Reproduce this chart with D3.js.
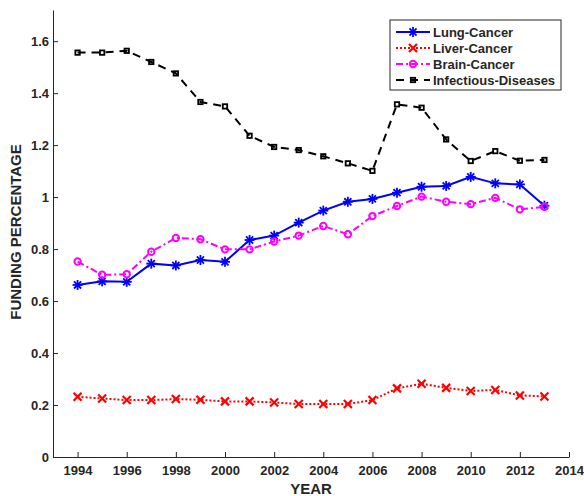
<!DOCTYPE html>
<html>
<head>
<meta charset="utf-8">
<script src="https://cdn.jsdelivr.net/npm/d3@7"></script>
<style>
  html, body { margin: 0; padding: 0; background: #fff; }
  svg { display: block; }
  text { font-family: "Liberation Sans", Arial, Helvetica, sans-serif; font-weight: bold; fill: #262626; }
</style>
</head>
<body>
<svg id="chart" width="584" height="496"></svg>
<script>
// Funding percentage by year for four disease areas
const years = [1994,1995,1996,1997,1998,1999,2000,2001,2002,2003,2004,2005,2006,2007,2008,2009,2010,2011,2012,2013];
const lungCancer = [0.662,0.676,0.674,0.744,0.737,0.758,0.751,0.835,0.852,0.902,0.948,0.982,0.993,1.017,1.040,1.043,1.078,1.053,1.049,0.967];
const liverCancer = [0.232,0.225,0.219,0.219,0.223,0.220,0.214,0.214,0.210,0.204,0.204,0.204,0.219,0.264,0.282,0.266,0.254,0.258,0.237,0.233];
const brainCancer = [0.752,0.701,0.703,0.790,0.843,0.838,0.799,0.799,0.829,0.852,0.889,0.857,0.927,0.966,1.002,0.982,0.973,0.997,0.953,0.963];
const infectiousDiseases = [1.556,1.556,1.563,1.520,1.476,1.366,1.349,1.236,1.193,1.181,1.157,1.130,1.101,1.357,1.344,1.222,1.139,1.177,1.140,1.143];
const xTicks = [1994,1996,1998,2000,2002,2004,2006,2008,2010,2012,2014];
const yTicks = [0,0.2,0.4,0.6,0.8,1,1.2,1.4,1.6];
const seriesNames = ["Lung-Cancer","Liver-Cancer","Brain-Cancer","Infectious-Diseases"];

const series = [
  {name: seriesNames[0], values: lungCancer, color: "#0000ff", dash: null, marker: "asterisk"},
  {name: seriesNames[1], values: liverCancer, color: "#ff0000", dash: "2,2", marker: "cross"},
  {name: seriesNames[2], values: brainCancer, color: "#ff00ff", dash: "7,3,2,3", marker: "circle"},
  {name: seriesNames[3], values: infectiousDiseases, color: "#000000", dash: "8,6", marker: "square"}
];

const margin = {left: 53, right: 15, top: 10, bottom: 39};
const W = 584, H = 496;
const svg = d3.select("#chart");

const x = d3.scaleLinear().domain([1993, 2014]).range([margin.left, W - margin.right]);
const y = d3.scaleLinear().domain([0, 1.72]).range([H - margin.bottom, margin.top]);

const axisColor = "#262626";

// Axes (ticks point inward)
const xAxis = svg.append("g")
  .attr("transform", `translate(0,${y(0)})`)
  .call(d3.axisBottom(x).tickValues(xTicks).tickFormat(d3.format("d")).tickSizeInner(-5).tickSizeOuter(0).tickPadding(9));
const yAxis = svg.append("g")
  .attr("transform", `translate(${x(1993)},0)`)
  .call(d3.axisLeft(y).tickValues(yTicks).tickFormat(d => String(+d.toFixed(1))).tickSizeInner(-5).tickSizeOuter(0).tickPadding(4));

[xAxis, yAxis].forEach(g => {
  g.select(".domain").attr("stroke", axisColor).attr("stroke-width", 1);
  g.selectAll(".tick line").attr("stroke", axisColor).attr("stroke-width", 1);
  g.selectAll(".tick text").attr("fill", axisColor)
    .style("font-family", '"Liberation Sans", Arial, sans-serif')
    .style("font-weight", "bold").style("font-size", "13px");
});

// Axis titles
svg.append("text")
  .attr("x", (x(1993) + x(2014)) / 2).attr("y", 494)
  .attr("text-anchor", "middle").style("font-size", "15px").text("YEAR");
svg.append("text")
  .attr("transform", `translate(21,232) rotate(-90)`)
  .attr("text-anchor", "middle").style("font-size", "15px").text("FUNDING PERCENTAGE");

// Marker drawing helpers
function drawMarker(g, type, cx, cy, color) {
  if (type === "asterisk") {
    const r = 5;
    for (let k = 0; k < 4; k++) {
      const a = k * Math.PI / 4;
      g.append("line")
        .attr("x1", cx - r * Math.cos(a)).attr("y1", cy - r * Math.sin(a))
        .attr("x2", cx + r * Math.cos(a)).attr("y2", cy + r * Math.sin(a))
        .attr("stroke", color).attr("stroke-width", 1.8);
    }
  } else if (type === "cross") {
    const r = 4;
    g.append("path")
      .attr("d", `M${cx - r},${cy - r}L${cx + r},${cy + r}M${cx - r},${cy + r}L${cx + r},${cy - r}`)
      .attr("stroke", color).attr("stroke-width", 2.2).attr("fill", "none");
  } else if (type === "circle") {
    g.append("circle").attr("cx", cx).attr("cy", cy).attr("r", 3.2)
      .attr("stroke", color).attr("stroke-width", 2).attr("fill", "none");
  } else if (type === "square") {
    g.append("rect").attr("x", cx - 2.2).attr("y", cy - 2.2).attr("width", 4.4).attr("height", 4.4)
      .attr("stroke", color).attr("stroke-width", 1.8).attr("fill", "none");
  }
}

const line = d3.line().x((d, i) => x(years[i])).y(d => y(d));

// Draw series
series.forEach(s => {
  const g = svg.append("g");
  g.append("path")
    .datum(s.values)
    .attr("d", line)
    .attr("fill", "none")
    .attr("stroke", s.color)
    .attr("stroke-width", 2)
    .attr("stroke-dasharray", s.dash);
  s.values.forEach((v, i) => drawMarker(g, s.marker, x(years[i]), y(v), s.color));
});

// Legend
const lg = svg.append("g");
const lx = 390, ly = 20, lw = 171, lh = 70;
lg.append("rect").attr("x", lx).attr("y", ly).attr("width", lw).attr("height", lh)
  .attr("fill", "#fff").attr("stroke", axisColor).attr("stroke-width", 1);
series.forEach((s, i) => {
  const yy = ly + 12 + i * 16;
  lg.append("line").attr("x1", lx + 6).attr("x2", lx + 40).attr("y1", yy).attr("y2", yy)
    .attr("stroke", s.color).attr("stroke-width", 2).attr("stroke-dasharray", s.dash);
  drawMarker(lg, s.marker, lx + 23, yy, s.color);
  lg.append("text").attr("x", lx + 43).attr("y", yy + 5)
    .style("font-size", "13px").attr("fill", "#000").text(s.name);
});
</script>
</body>
</html>
